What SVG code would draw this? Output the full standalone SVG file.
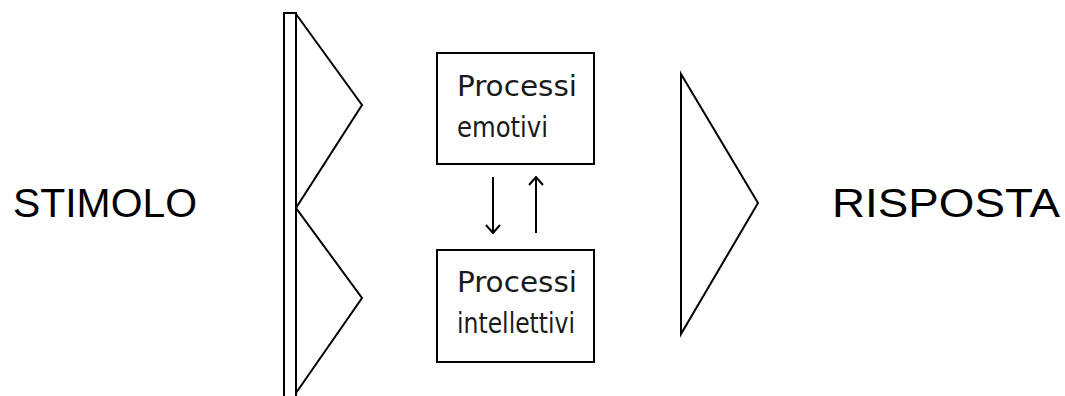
<svg xmlns="http://www.w3.org/2000/svg" width="1065" height="396" viewBox="0 0 1065 396">
<defs>
<style>
.ln{fill:none;stroke:#000;stroke-width:2}
.big{font-family:"Liberation Sans",Arial,sans-serif;font-size:40px;fill:#000}
.sm{font-family:"DejaVu Sans Condensed","DejaVu Sans",sans-serif;font-size:29px;fill:#1a1a1a}
</style>
<marker id="ah" viewBox="0 0 16 16" refX="15" refY="8" markerWidth="16" markerHeight="16" markerUnits="userSpaceOnUse" orient="auto">
<path d="M7,1 L15,8 L7,15" fill="none" stroke="#000" stroke-width="2"/>
</marker>
</defs>
<rect width="1065" height="396" fill="#fff"/>
<g id="stimolo"><text class="big" x="13" y="217" textLength="184" lengthAdjust="spacingAndGlyphs">STIMOLO</text></g>
<g id="filter-left">
<path class="ln" d="M284,400 V13 H296 V400"/>
<path class="ln" d="M296,14 L362,105 L296,208 L362,298 L296,393"/>
</g>
<g id="emotivi">
<rect class="ln" x="437" y="53" width="157" height="111"/>
<text class="sm" x="457" y="96" textLength="120" lengthAdjust="spacingAndGlyphs">Processi</text>
<text class="sm" x="457" y="137" textLength="91" lengthAdjust="spacingAndGlyphs">emotivi</text>
</g>
<g id="intellettivi">
<rect class="ln" x="437" y="250" width="157" height="112"/>
<text class="sm" x="457" y="292" textLength="120" lengthAdjust="spacingAndGlyphs">Processi</text>
<text class="sm" x="457" y="333" textLength="118" lengthAdjust="spacingAndGlyphs">intellettivi</text>
</g>
<g id="connectors">
<line class="ln" x1="493" y1="177" x2="493" y2="233" marker-end="url(#ah)"/>
<line class="ln" x1="536" y1="233" x2="536" y2="177" marker-end="url(#ah)"/>
</g>
<g id="filter-right">
<path class="ln" d="M681,74 L758,203 L681,334 Z"/>
</g>
<g id="risposta"><text class="big" x="832" y="217" textLength="228" lengthAdjust="spacingAndGlyphs">RISPOSTA</text></g>
</svg>
